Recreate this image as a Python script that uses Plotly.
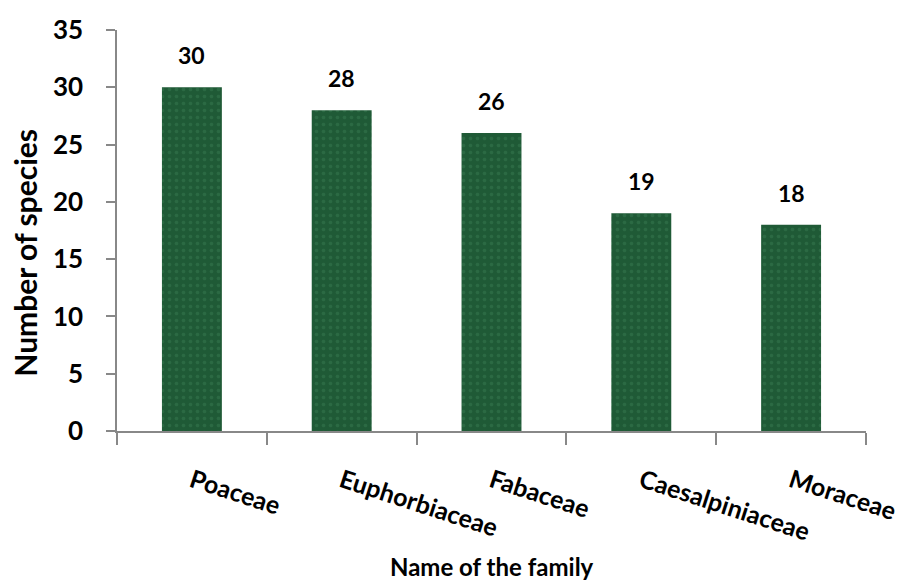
import plotly.graph_objects as go

families = ["Poaceae", "Euphorbiaceae", "Fabaceae", "Caesalpiniaceae", "Moraceae"]
species_counts = [30, 28, 26, 19, 18]
y_ticks = [0, 5, 10, 15, 20, 25, 30, 35]

FONT = "Lato"
BAR = "#1f5a36"
AX = "#888888"

fig = go.Figure()
fig.add_trace(go.Bar(
    x=families, y=species_counts, width=0.4,
    marker=dict(color=BAR, line=dict(width=0),
                pattern=dict(shape=".", fgcolor="#4f9a6a", fgopacity=0.25, size=7, solidity=0.2)),
    hoverinfo="x+y",
))
for f, v in zip(families, species_counts):
    fig.add_annotation(x=f, y=v, text=f"<b>{v}</b>", showarrow=False,
                       yanchor="bottom", yshift=16,
                       font=dict(family=FONT, size=23, color="#000"))

fig.add_annotation(xref="paper", yref="paper", x=0.5, y=-0.339,
                   xanchor="center", yanchor="middle", showarrow=False,
                   text="<b>Name of the family</b>",
                   font=dict(family=FONT, size=24, color="#000"))
fig.add_annotation(xref="paper", yref="paper", x=-0.124, y=0.445,
                   xanchor="center", yanchor="middle", showarrow=False, textangle=-90,
                   text="<b>Number of species</b>",
                   font=dict(family=FONT, size=30, color="#000"))

fig.update_layout(
    width=902, height=581,
    margin=dict(l=117, r=36, t=30, b=150),
    plot_bgcolor="white", paper_bgcolor="white",
    showlegend=False,
    font=dict(family=FONT, color="#000"),
)
fig.update_yaxes(
    range=[0, 35], tickvals=y_ticks, ticktext=[f"<b>{t}</b>" for t in y_ticks],
    showgrid=False, zeroline=False,
    showline=True, linecolor=AX, linewidth=1.5,
    ticks="outside", ticklen=9, tickcolor=AX, tickwidth=1.5,
    tickfont=dict(family=FONT, size=26, color="#000"),
    ticklabelstandoff=18,
    automargin=False,
)
fig.update_xaxes(
    showgrid=False, zeroline=False,
    showline=True, linecolor=AX, linewidth=1.5,
    ticks="outside", ticklen=12, tickcolor=AX, tickwidth=1.5,
    tickson="boundaries",
    tickangle=18,
    ticktext=[f"<b>{f}</b>" for f in families], tickvals=families,
    tickfont=dict(family=FONT, size=25, color="#000"),
    ticklabelstandoff=24,
    automargin=False,
)
fig.write_html("out.html")
